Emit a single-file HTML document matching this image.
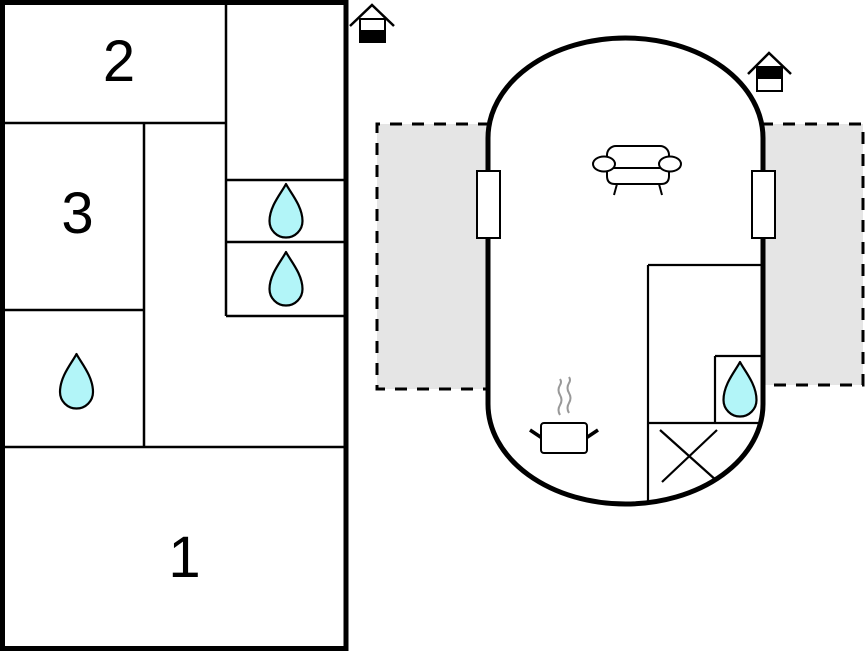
<!DOCTYPE html>
<html>
<head>
<meta charset="utf-8">
<style>
  html, body { margin: 0; padding: 0; background: #fff; }
  body { width: 865px; height: 652px; overflow: hidden; }
  svg { display: block; }
  text { font-family: "Liberation Sans", Arial, sans-serif; }
</style>
</head>
<body>
<svg width="865" height="652" viewBox="0 0 865 652" xmlns="http://www.w3.org/2000/svg">
  <rect x="0" y="0" width="865" height="652" fill="#fff"/>

  <!-- LEFT PLAN -->
  <g fill="none" stroke="#000" stroke-width="2.5">
    <path d="M226,3 V316"/>
    <path d="M3,123 H226"/>
    <path d="M144,123 V447"/>
    <path d="M3,310 H144"/>
    <path d="M3,447 H346"/>
    <path d="M226,180 H346"/>
    <path d="M226,242 H346"/>
    <path d="M226,316 H346"/>
  </g>
  <rect x="2.5" y="2.5" width="343.5" height="646" fill="none" stroke="#000" stroke-width="5"/>

  <text x="119" y="81" font-size="58" text-anchor="middle" fill="#000">2</text>
  <text x="77.5" y="233" font-size="58" text-anchor="middle" fill="#000">3</text>
  <text x="184.5" y="577" font-size="58" text-anchor="middle" fill="#000">1</text>

  <!-- drops -->
  <g fill="#b2f5f8" stroke="#000" stroke-width="2.2" stroke-linejoin="round">
    <path d="M76.5,354 C80.5,362 93,376 93,392 A16.5,16.5 0 0 1 60,392 C60,376 72.5,362 76.5,354 Z"/>
    <path d="M286,184 C290,192 302.5,206 302.5,221 A16.5,16.5 0 0 1 269.5,221 C269.5,206 282,192 286,184 Z"/>
    <path d="M286,252 C290,260 302.5,274 302.5,289 A16.5,16.5 0 0 1 269.5,289 C269.5,274 282,260 286,252 Z"/>
  </g>

  <!-- home icon 1 -->
  <rect x="360" y="19" width="25" height="23" fill="#fff" stroke="#000" stroke-width="2"/>
  <rect x="360" y="30" width="25" height="12" fill="#000"/>
  <polyline points="350,26 372,5 394,26" fill="none" stroke="#000" stroke-width="2.5"/>

  <!-- home icon 2 -->
  <rect x="757" y="67" width="25" height="24" fill="#fff" stroke="#000" stroke-width="2"/>
  <rect x="757" y="67" width="25" height="12" fill="#000"/>
  <polyline points="748,74 769,53 791,74" fill="none" stroke="#000" stroke-width="2.5"/>

  <!-- RIGHT PLAN: terraces -->
  <rect x="377" y="124" width="113" height="265" fill="#e5e5e5"/>
  <path d="M490,124 H377 V389 H490" fill="none" stroke="#000" stroke-width="3" stroke-dasharray="12 10"/>
  <rect x="761" y="124" width="102" height="261" fill="#e5e5e5"/>
  <path d="M761,124 H863 V385 H761" fill="none" stroke="#000" stroke-width="3" stroke-dasharray="12 10"/>

  <!-- capsule -->
  <path d="M488,138 A137.5,100 0 0 1 763,138 L763,404 A137.5,100 0 0 1 488,404 Z" fill="#fff" stroke="none"/>

  <!-- interior -->
  <g fill="none" stroke="#000" stroke-width="2.2">
    <path d="M648,265 V504"/>
    <path d="M648,265 H763"/>
    <path d="M648,423 H761"/>
    <path d="M715,356 V423"/>
    <path d="M715,356 H763"/>
    <path d="M660,430 L717,481"/>
    <path d="M717,430 L662,482"/>
  </g>

  <path d="M488,138 A137.5,100 0 0 1 763,138 L763,404 A137.5,100 0 0 1 488,404 Z" fill="none" stroke="#000" stroke-width="5"/>

  <!-- windows -->
  <rect x="477" y="171" width="23" height="67" fill="#fff" stroke="#000" stroke-width="2"/>
  <rect x="752" y="171" width="23" height="67" fill="#fff" stroke="#000" stroke-width="2"/>

  <!-- right drop -->
  <path d="M740,362 C744,370 756.5,384 756.5,400 A16.5,16.5 0 0 1 723.5,400 C723.5,384 736,370 740,362 Z" fill="#b2f5f8" stroke="#000" stroke-width="2.2" stroke-linejoin="round"/>

  <!-- sofa -->
  <g stroke="#000" stroke-width="2" fill="#fff">
    <rect x="607" y="146" width="62" height="24" rx="9"/>
    <path d="M607,168 H669 V176 Q669,184 661,184 H615 Q607,184 607,176 Z"/>
    <ellipse cx="604" cy="164" rx="11" ry="7.5"/>
    <ellipse cx="670" cy="164" rx="11" ry="7.5"/>
    <path d="M617,184 L614,195" fill="none"/>
    <path d="M659,184 L662,195" fill="none"/>
  </g>

  <!-- pot -->
  <path d="M560,415 q-3,-5 0,-10 q3,-5 0,-10 q-3,-5 0,-10 q2,-3 0,-6" fill="none" stroke="#999" stroke-width="2"/>
  <path d="M569,413 q-3,-5 0,-10 q3,-5 0,-10 q-3,-5 0,-10 q2,-3 0,-6" fill="none" stroke="#999" stroke-width="2"/>
  <path d="M530,430 L542,438" stroke="#000" stroke-width="3.5"/>
  <path d="M586,438 L598,430" stroke="#000" stroke-width="3.5"/>
  <rect x="541" y="423" width="46" height="30" rx="3" fill="#fff" stroke="#000" stroke-width="2"/>
</svg>
</body>
</html>
